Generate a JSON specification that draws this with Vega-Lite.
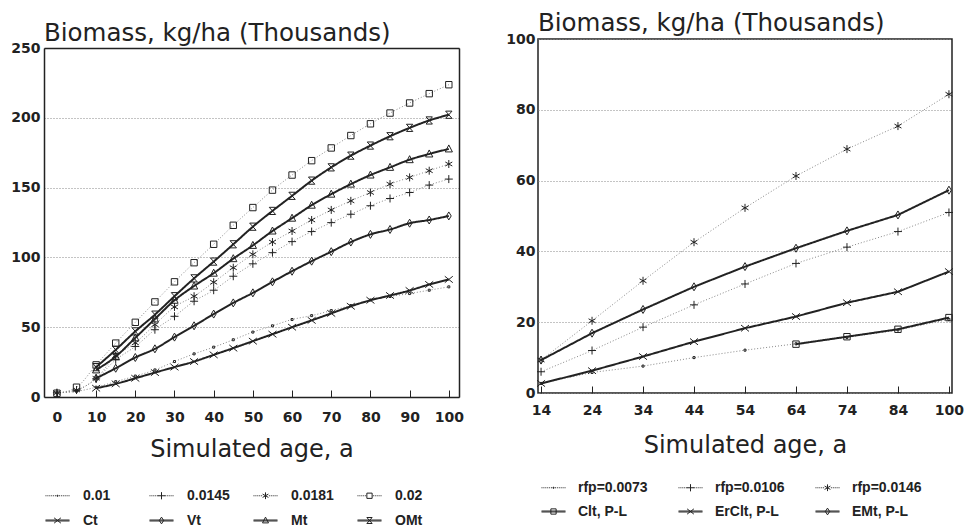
{
"$schema": "https://vega.github.io/schema/vega-lite/v6.json",
"background": "white",
"padding": {"left": 10, "top": 9, "right": 5, "bottom": 0},
"spacing": 41,
"datasets": {
"left": [
{"s":"0.01","k":"dotted","x":0,"y":3},{"s":"0.01","k":"dotted","x":5,"y":4},{"s":"0.01","k":"dotted","x":10,"y":7},{"s":"0.01","k":"dotted","x":15,"y":11},{"s":"0.01","k":"dotted","x":20,"y":15},{"s":"0.01","k":"dotted","x":25,"y":19.4},{"s":"0.01","k":"dotted","x":30,"y":25.4},{"s":"0.01","k":"dotted","x":35,"y":30.9},{"s":"0.01","k":"dotted","x":40,"y":35.7},{"s":"0.01","k":"dotted","x":45,"y":41},{"s":"0.01","k":"dotted","x":50,"y":46.5},{"s":"0.01","k":"dotted","x":55,"y":51},{"s":"0.01","k":"dotted","x":60,"y":55.5},{"s":"0.01","k":"dotted","x":65,"y":58.3},{"s":"0.01","k":"dotted","x":70,"y":61.9},{"s":"0.01","k":"dotted","x":75,"y":65.5},{"s":"0.01","k":"dotted","x":80,"y":69.5},{"s":"0.01","k":"dotted","x":85,"y":72},{"s":"0.01","k":"dotted","x":90,"y":74.1},{"s":"0.01","k":"dotted","x":95,"y":76.5},{"s":"0.01","k":"dotted","x":100,"y":78.9},
{"s":"0.0145","k":"dotted","x":0,"y":3},{"s":"0.0145","k":"dotted","x":5,"y":5},{"s":"0.0145","k":"dotted","x":10,"y":13},{"s":"0.0145","k":"dotted","x":15,"y":26.6},{"s":"0.0145","k":"dotted","x":20,"y":36.2},{"s":"0.0145","k":"dotted","x":25,"y":48.2},{"s":"0.0145","k":"dotted","x":30,"y":57.8},{"s":"0.0145","k":"dotted","x":35,"y":68.6},{"s":"0.0145","k":"dotted","x":40,"y":76.5},{"s":"0.0145","k":"dotted","x":45,"y":86.5},{"s":"0.0145","k":"dotted","x":50,"y":95.4},{"s":"0.0145","k":"dotted","x":55,"y":103.4},{"s":"0.0145","k":"dotted","x":60,"y":111.3},{"s":"0.0145","k":"dotted","x":65,"y":118.5},{"s":"0.0145","k":"dotted","x":70,"y":124.9},{"s":"0.0145","k":"dotted","x":75,"y":130.9},{"s":"0.0145","k":"dotted","x":80,"y":137},{"s":"0.0145","k":"dotted","x":85,"y":142.2},{"s":"0.0145","k":"dotted","x":90,"y":146.5},{"s":"0.0145","k":"dotted","x":95,"y":151.8},{"s":"0.0145","k":"dotted","x":100,"y":156.1},
{"s":"0.0181","k":"dotted","x":0,"y":3},{"s":"0.0181","k":"dotted","x":5,"y":5},{"s":"0.0181","k":"dotted","x":10,"y":13.4},{"s":"0.0181","k":"dotted","x":15,"y":29.5},{"s":"0.0181","k":"dotted","x":20,"y":38.8},{"s":"0.0181","k":"dotted","x":25,"y":51.8},{"s":"0.0181","k":"dotted","x":30,"y":64.5},{"s":"0.0181","k":"dotted","x":35,"y":72.2},{"s":"0.0181","k":"dotted","x":40,"y":82.2},{"s":"0.0181","k":"dotted","x":45,"y":92.6},{"s":"0.0181","k":"dotted","x":50,"y":102.2},{"s":"0.0181","k":"dotted","x":55,"y":111},{"s":"0.0181","k":"dotted","x":60,"y":118.9},{"s":"0.0181","k":"dotted","x":65,"y":126.8},{"s":"0.0181","k":"dotted","x":70,"y":134},{"s":"0.0181","k":"dotted","x":75,"y":140.5},{"s":"0.0181","k":"dotted","x":80,"y":146.5},{"s":"0.0181","k":"dotted","x":85,"y":152.5},{"s":"0.0181","k":"dotted","x":90,"y":157.3},{"s":"0.0181","k":"dotted","x":95,"y":162.1},{"s":"0.0181","k":"dotted","x":100,"y":166.9},
{"s":"0.02","k":"dotted","x":0,"y":2.7},{"s":"0.02","k":"dotted","x":5,"y":7},{"s":"0.02","k":"dotted","x":10,"y":23},{"s":"0.02","k":"dotted","x":15,"y":38.6},{"s":"0.02","k":"dotted","x":20,"y":53.5},{"s":"0.02","k":"dotted","x":25,"y":68.1},{"s":"0.02","k":"dotted","x":30,"y":82.5},{"s":"0.02","k":"dotted","x":35,"y":96.2},{"s":"0.02","k":"dotted","x":40,"y":109.4},{"s":"0.02","k":"dotted","x":45,"y":123},{"s":"0.02","k":"dotted","x":50,"y":135.7},{"s":"0.02","k":"dotted","x":55,"y":148.2},{"s":"0.02","k":"dotted","x":60,"y":159},{"s":"0.02","k":"dotted","x":65,"y":169.3},{"s":"0.02","k":"dotted","x":70,"y":178.4},{"s":"0.02","k":"dotted","x":75,"y":187.3},{"s":"0.02","k":"dotted","x":80,"y":195.7},{"s":"0.02","k":"dotted","x":85,"y":203.4},{"s":"0.02","k":"dotted","x":90,"y":210.6},{"s":"0.02","k":"dotted","x":95,"y":217.3},{"s":"0.02","k":"dotted","x":100,"y":223.7},
{"s":"Ct","k":"solid","x":10,"y":6.3},{"s":"Ct","k":"solid","x":15,"y":9.4},{"s":"Ct","k":"solid","x":20,"y":13.4},{"s":"Ct","k":"solid","x":25,"y":17.5},{"s":"Ct","k":"solid","x":30,"y":21.4},{"s":"Ct","k":"solid","x":35,"y":25.4},{"s":"Ct","k":"solid","x":40,"y":30.2},{"s":"Ct","k":"solid","x":45,"y":35},{"s":"Ct","k":"solid","x":50,"y":40},{"s":"Ct","k":"solid","x":55,"y":45},{"s":"Ct","k":"solid","x":60,"y":50},{"s":"Ct","k":"solid","x":65,"y":54.9},{"s":"Ct","k":"solid","x":70,"y":59.9},{"s":"Ct","k":"solid","x":75,"y":65},{"s":"Ct","k":"solid","x":80,"y":69.3},{"s":"Ct","k":"solid","x":85,"y":72.7},{"s":"Ct","k":"solid","x":90,"y":76.3},{"s":"Ct","k":"solid","x":95,"y":80.6},{"s":"Ct","k":"solid","x":100,"y":84.2},
{"s":"Vt","k":"solid","x":10,"y":13.4},{"s":"Vt","k":"solid","x":15,"y":20.6},{"s":"Vt","k":"solid","x":20,"y":28.3},{"s":"Vt","k":"solid","x":25,"y":34.5},{"s":"Vt","k":"solid","x":30,"y":42.9},{"s":"Vt","k":"solid","x":35,"y":51},{"s":"Vt","k":"solid","x":40,"y":59.4},{"s":"Vt","k":"solid","x":45,"y":67.4},{"s":"Vt","k":"solid","x":50,"y":74.6},{"s":"Vt","k":"solid","x":55,"y":82.5},{"s":"Vt","k":"solid","x":60,"y":90.1},{"s":"Vt","k":"solid","x":65,"y":97.3},{"s":"Vt","k":"solid","x":70,"y":104.1},{"s":"Vt","k":"solid","x":75,"y":111},{"s":"Vt","k":"solid","x":80,"y":116.5},{"s":"Vt","k":"solid","x":85,"y":120},{"s":"Vt","k":"solid","x":90,"y":124.5},{"s":"Vt","k":"solid","x":95,"y":126.8},{"s":"Vt","k":"solid","x":100,"y":129.7},
{"s":"Mt","k":"solid","x":10,"y":19.4},{"s":"Mt","k":"solid","x":15,"y":29},{"s":"Mt","k":"solid","x":20,"y":42.4},{"s":"Mt","k":"solid","x":25,"y":55.9},{"s":"Mt","k":"solid","x":30,"y":69.3},{"s":"Mt","k":"solid","x":35,"y":79.5},{"s":"Mt","k":"solid","x":40,"y":88.7},{"s":"Mt","k":"solid","x":45,"y":99.1},{"s":"Mt","k":"solid","x":50,"y":108.6},{"s":"Mt","k":"solid","x":55,"y":118.9},{"s":"Mt","k":"solid","x":60,"y":128.1},{"s":"Mt","k":"solid","x":65,"y":137.4},{"s":"Mt","k":"solid","x":70,"y":145.3},{"s":"Mt","k":"solid","x":75,"y":152.5},{"s":"Mt","k":"solid","x":80,"y":159},{"s":"Mt","k":"solid","x":85,"y":164.5},{"s":"Mt","k":"solid","x":90,"y":170},{"s":"Mt","k":"solid","x":95,"y":174.1},{"s":"Mt","k":"solid","x":100,"y":177.7},
{"s":"OMt","k":"solid","x":10,"y":21.4},{"s":"OMt","k":"solid","x":15,"y":33.8},{"s":"OMt","k":"solid","x":20,"y":47},{"s":"OMt","k":"solid","x":25,"y":59},{"s":"OMt","k":"solid","x":30,"y":72.2},{"s":"OMt","k":"solid","x":35,"y":85},{"s":"OMt","k":"solid","x":40,"y":97},{"s":"OMt","k":"solid","x":45,"y":109.4},{"s":"OMt","k":"solid","x":50,"y":122},{"s":"OMt","k":"solid","x":55,"y":133.3},{"s":"OMt","k":"solid","x":60,"y":144.1},{"s":"OMt","k":"solid","x":65,"y":155},{"s":"OMt","k":"solid","x":70,"y":164.5},{"s":"OMt","k":"solid","x":75,"y":172.9},{"s":"OMt","k":"solid","x":80,"y":180.1},{"s":"OMt","k":"solid","x":85,"y":186.8},{"s":"OMt","k":"solid","x":90,"y":192.8},{"s":"OMt","k":"solid","x":95,"y":198.1},{"s":"OMt","k":"solid","x":100,"y":202.2}
],
"right": [
{"s":"rfp=0.0073","k":"dotted","x":14,"y":2.7},{"s":"rfp=0.0073","k":"dotted","x":24,"y":5.8},{"s":"rfp=0.0073","k":"dotted","x":34,"y":7.6},{"s":"rfp=0.0073","k":"dotted","x":44,"y":10},{"s":"rfp=0.0073","k":"dotted","x":54,"y":12.1},{"s":"rfp=0.0073","k":"dotted","x":64,"y":13.9},{"s":"rfp=0.0073","k":"dotted","x":74,"y":15.7},{"s":"rfp=0.0073","k":"dotted","x":84,"y":17.8},{"s":"rfp=0.0073","k":"dotted","x":100,"y":20.8},
{"s":"rfp=0.0106","k":"dotted","x":14,"y":6},{"s":"rfp=0.0106","k":"dotted","x":24,"y":12},{"s":"rfp=0.0106","k":"dotted","x":34,"y":18.6},{"s":"rfp=0.0106","k":"dotted","x":44,"y":24.9},{"s":"rfp=0.0106","k":"dotted","x":54,"y":30.8},{"s":"rfp=0.0106","k":"dotted","x":64,"y":36.6},{"s":"rfp=0.0106","k":"dotted","x":74,"y":41.2},{"s":"rfp=0.0106","k":"dotted","x":84,"y":45.6},{"s":"rfp=0.0106","k":"dotted","x":100,"y":51},
{"s":"rfp=0.0146","k":"dotted","x":14,"y":9.3},{"s":"rfp=0.0146","k":"dotted","x":24,"y":20.4},{"s":"rfp=0.0146","k":"dotted","x":34,"y":31.7},{"s":"rfp=0.0146","k":"dotted","x":44,"y":42.6},{"s":"rfp=0.0146","k":"dotted","x":54,"y":52.3},{"s":"rfp=0.0146","k":"dotted","x":64,"y":61.3},{"s":"rfp=0.0146","k":"dotted","x":74,"y":68.9},{"s":"rfp=0.0146","k":"dotted","x":84,"y":75.4},{"s":"rfp=0.0146","k":"dotted","x":100,"y":84.4},
{"s":"Clt, P-L","k":"solid","x":64,"y":13.8},{"s":"Clt, P-L","k":"solid","x":74,"y":15.9},{"s":"Clt, P-L","k":"solid","x":84,"y":18},{"s":"Clt, P-L","k":"solid","x":100,"y":21.3},
{"s":"ErClt, P-L","k":"solid","x":14,"y":2.7},{"s":"ErClt, P-L","k":"solid","x":24,"y":6.3},{"s":"ErClt, P-L","k":"solid","x":34,"y":10.3},{"s":"ErClt, P-L","k":"solid","x":44,"y":14.5},{"s":"ErClt, P-L","k":"solid","x":54,"y":18.3},{"s":"ErClt, P-L","k":"solid","x":64,"y":21.6},{"s":"ErClt, P-L","k":"solid","x":74,"y":25.5},{"s":"ErClt, P-L","k":"solid","x":84,"y":28.6},{"s":"ErClt, P-L","k":"solid","x":100,"y":34.3},
{"s":"EMt, P-L","k":"solid","x":14,"y":9.3},{"s":"EMt, P-L","k":"solid","x":24,"y":16.9},{"s":"EMt, P-L","k":"solid","x":34,"y":23.6},{"s":"EMt, P-L","k":"solid","x":44,"y":30},{"s":"EMt, P-L","k":"solid","x":54,"y":35.7},{"s":"EMt, P-L","k":"solid","x":64,"y":40.9},{"s":"EMt, P-L","k":"solid","x":74,"y":45.8},{"s":"EMt, P-L","k":"solid","x":84,"y":50.3},{"s":"EMt, P-L","k":"solid","x":100,"y":57.3}
]
},
"hconcat": [
{
"width": 415, "height": 358,
"view": {"stroke": null},
"data": {"name": "left"},
"title": {"text": "Biomass, kg/ha (Thousands)", "font": "DejaVu Sans", "fontSize": 24.5, "fontWeight": "normal", "color": "#222", "anchor": "start", "frame": "group", "offset": -7.5},
"layer": [
{"mark": {"type": "line", "interpolate": "monotone"},
"encoding": {
"x": {"field": "x", "type": "quantitative", "scale": {"domain": [-3.3, 102.6], "nice": false, "zero": false},
"axis": {"values": [0,10,20,30,40,50,60,70,80,90,100], "format": "d", "title": "Simulated age, a", "grid": false, "domain": true, "domainColor": "#222", "domainWidth": 1.5, "tickSize": -7, "tickColor": "#222", "labelPadding": 20, "labelFont": "DejaVu Sans", "labelFontSize": 14, "labelFontWeight": "bold", "labelColor": "#222", "titleFont": "DejaVu Sans", "titleFontSize": 24, "titleFontWeight": "normal", "titleColor": "#222", "titlePadding": 13}},
"y": {"field": "y", "type": "quantitative", "scale": {"domain": [0, 250], "nice": false, "range": [358, 9]},
"axis": {"values": [0,50,100,150,200,250], "title": null, "grid": true, "gridDash": [1,2], "gridColor": "#888", "domain": true, "domainColor": "#222", "domainWidth": 1.5, "ticks": false, "labelPadding": 4, "labelFont": "DejaVu Sans", "labelFontSize": 14, "labelFontWeight": "bold", "labelColor": "#222"}},
"detail": {"field": "s"},
"strokeDash": {"field": "k", "type": "nominal", "scale": {"domain": ["dotted","solid"], "range": [[1,2],[1,0]]}, "legend": null},
"strokeWidth": {"field": "k", "type": "nominal", "scale": {"domain": ["dotted","solid"], "range": [1,2]}, "legend": null},
"color": {"field": "k", "type": "nominal", "scale": {"domain": ["dotted","solid"], "range": ["#888","#222"]}, "legend": null}}},
{"mark": {"type": "point", "filled": false, "size": 64, "strokeWidth": 1, "color": "#222", "opacity": 1},
"encoding": {
"x": {"field": "x", "type": "quantitative", "axis": {"orient": "top", "labels": false, "ticks": false, "grid": false, "domain": true, "domainColor": "#222", "domainWidth": 1.5, "title": null, "offset": -9}},
"y": {"field": "y", "type": "quantitative", "axis": {"orient": "right", "labels": false, "ticks": false, "grid": false, "domain": true, "domainColor": "#222", "domainWidth": 1.5, "title": null}},
"shape": {"field": "s", "type": "nominal",
"scale": {"domain": ["0.01","0.0145","0.0181","0.02","Ct","Vt","Mt","OMt"],
"range": ["M-0.25,-0.25H0.25V0.25H-0.25Z","M-1,0H1M0,-1V1","M0,-1V1M-0.87,-0.5L0.87,0.5M-0.87,0.5L0.87,-0.5","M-0.8,-0.8H0.8V0.8H-0.8Z","M-1,-0.8L1,0.8M-1,0.8L1,-0.8","M0,-1L0.6,0L0,1L-0.6,0Z","M0,-1L0.9,0.75H-0.9Z","M-0.8,-0.9H0.8L-0.8,0.9H0.8Z"]},
"legend": null}}},
{"mark": {"type": "point", "filled": false, "opacity": 0, "color": "#222"},
"encoding": {
"x": {"field": "x", "type": "quantitative", "axis": null},
"y": {"field": "y", "type": "quantitative", "axis": null},
"shape": {"field": "s", "type": "nominal",
"scale": {"domain": ["0.01","0.0145","0.0181","0.02","Ct","Vt","Mt","OMt"],
"range": [
"M-1,0H-0.92M-0.84,0H-0.76M-0.68,0H-0.6M-0.52,0H-0.44M-0.36,0H-0.28M-0.2,0H-0.12M0.12,0H0.2M0.28,0H0.36M0.44,0H0.52M0.6,0H0.68M0.76,0H0.84M0.92,0H1M-0.04,-0.04H0.04V0.04H-0.04Z",
"M-1,0H-0.92M-0.84,0H-0.76M-0.68,0H-0.6M-0.52,0H-0.44M-0.36,0H-0.28M0.28,0H0.36M0.44,0H0.52M0.6,0H0.68M0.76,0H0.84M0.92,0H1M-0.3,0H0.3M0,-0.3V0.3",
"M-1,0H-0.92M-0.84,0H-0.76M-0.68,0H-0.6M-0.52,0H-0.44M-0.36,0H-0.28M0.28,0H0.36M0.44,0H0.52M0.6,0H0.68M0.76,0H0.84M0.92,0H1M0,-0.28V0.28M-0.24,-0.14L0.24,0.14M-0.24,0.14L0.24,-0.14",
"M-1,0H-0.92M-0.84,0H-0.76M-0.68,0H-0.6M-0.52,0H-0.44M-0.36,0H-0.28M0.28,0H0.36M0.44,0H0.52M0.6,0H0.68M0.76,0H0.84M0.92,0H1M-0.22,-0.22H0.22V0.22H-0.22Z",
"M-1,-0.04H1M-1,0.04H1M-0.28,-0.22L0.28,0.22M-0.28,0.22L0.28,-0.22",
"M-1,-0.04H1M-1,0.04H1M0,-0.28L0.18,0L0,0.28L-0.18,0Z",
"M-1,-0.04H1M-1,0.04H1M0,-0.28L0.25,0.2H-0.25Z",
"M-1,-0.04H1M-1,0.04H1M-0.22,-0.25H0.22L-0.22,0.25H0.22Z"]},
"legend": {"title": null, "orient": "none", "direction": "horizontal", "legendX": 1, "legendY": 444, "columns": 4, "gridAlign": "all", "symbolSize": 576, "symbolStrokeWidth": 1, "symbolOpacity": 1, "symbolStrokeColor": "#222", "labelFont": "Liberation Sans", "labelFontSize": 14, "labelFontWeight": "bold", "labelColor": "#222", "labelOffset": 13, "columnPadding": 21, "rowPadding": 5}}}}
],
"resolve": {"scale": {"shape": "independent"}, "axis": {"x": "independent", "y": "independent"}}
},
{
"width": 414, "height": 354,
"data": {"name": "right"},
"title": {"text": "Biomass, kg/ha (Thousands)", "font": "DejaVu Sans", "fontSize": 24.5, "fontWeight": "normal", "color": "#222", "anchor": "start", "frame": "group", "offset": -4},
"encoding": {
"x": {"field": "x", "type": "ordinal", "scale": {"type": "point", "domain": [14,24,34,44,54,64,74,84,100], "padding": 0.06},
"axis": {"labelAngle": 0, "title": "Simulated age, a", "grid": false, "domain": false, "tickSize": -7, "tickColor": "#222", "labelPadding": 17, "labelFont": "DejaVu Sans", "labelFontSize": 14, "labelFontWeight": "bold", "labelColor": "#222", "titleFont": "DejaVu Sans", "titleFontSize": 24, "titleFontWeight": "normal", "titleColor": "#222", "titlePadding": 16}},
"y": {"field": "y", "type": "quantitative", "scale": {"domain": [0, 100], "nice": false},
"axis": {"values": [0,20,40,60,80,100], "title": null, "grid": true, "gridDash": [1,2], "gridColor": "#888", "domain": false, "ticks": false, "labelPadding": 3, "labelFont": "DejaVu Sans", "labelFontSize": 14, "labelFontWeight": "bold", "labelColor": "#222"}}
},
"layer": [
{"mark": {"type": "line"},
"encoding": {"detail": {"field": "s"},
"strokeDash": {"field": "k", "type": "nominal", "scale": {"domain": ["dotted","solid"], "range": [[1,2],[1,0]]}, "legend": null},
"strokeWidth": {"field": "k", "type": "nominal", "scale": {"domain": ["dotted","solid"], "range": [1,2]}, "legend": null},
"color": {"field": "k", "type": "nominal", "scale": {"domain": ["dotted","solid"], "range": ["#888","#222"]}, "legend": null}}},
{"mark": {"type": "point", "filled": false, "size": 64, "strokeWidth": 1, "color": "#222", "opacity": 1},
"encoding": {"shape": {"field": "s", "type": "nominal",
"scale": {"domain": ["rfp=0.0073","rfp=0.0106","rfp=0.0146","Clt, P-L","ErClt, P-L","EMt, P-L"],
"range": ["M-0.25,-0.25H0.25V0.25H-0.25Z","M-1,0H1M0,-1V1","M0,-1V1M-0.87,-0.5L0.87,0.5M-0.87,0.5L0.87,-0.5","M-0.8,-0.8H0.8V0.8H-0.8Z","M-1,-0.8L1,0.8M-1,0.8L1,-0.8","M0,-1L0.6,0L0,1L-0.6,0Z"]},
"legend": null}}},
{"mark": {"type": "point", "filled": false, "opacity": 0, "color": "#222"},
"encoding": {"shape": {"field": "s", "type": "nominal",
"scale": {"domain": ["rfp=0.0073","rfp=0.0106","rfp=0.0146","Clt, P-L","ErClt, P-L","EMt, P-L"],
"range": [
"M-1,0H-0.92M-0.84,0H-0.76M-0.68,0H-0.6M-0.52,0H-0.44M-0.36,0H-0.28M-0.2,0H-0.12M0.12,0H0.2M0.28,0H0.36M0.44,0H0.52M0.6,0H0.68M0.76,0H0.84M0.92,0H1M-0.04,-0.04H0.04V0.04H-0.04Z",
"M-1,0H-0.92M-0.84,0H-0.76M-0.68,0H-0.6M-0.52,0H-0.44M-0.36,0H-0.28M0.28,0H0.36M0.44,0H0.52M0.6,0H0.68M0.76,0H0.84M0.92,0H1M-0.3,0H0.3M0,-0.3V0.3",
"M-1,0H-0.92M-0.84,0H-0.76M-0.68,0H-0.6M-0.52,0H-0.44M-0.36,0H-0.28M0.28,0H0.36M0.44,0H0.52M0.6,0H0.68M0.76,0H0.84M0.92,0H1M0,-0.28V0.28M-0.24,-0.14L0.24,0.14M-0.24,0.14L0.24,-0.14",
"M-1,-0.04H1M-1,0.04H1M-0.22,-0.22H0.22V0.22H-0.22Z",
"M-1,-0.04H1M-1,0.04H1M-0.28,-0.22L0.28,0.22M-0.28,0.22L0.28,-0.22",
"M-1,-0.04H1M-1,0.04H1M0,-0.28L0.18,0L0,0.28L-0.18,0Z"]},
"legend": {"title": null, "orient": "none", "direction": "horizontal", "legendX": 3, "legendY": 436, "columns": 3, "gridAlign": "all", "symbolSize": 576, "symbolStrokeWidth": 1, "symbolOpacity": 1, "symbolStrokeColor": "#222", "labelFont": "Liberation Sans", "labelFontSize": 14, "labelFontWeight": "bold", "labelColor": "#222", "labelOffset": 12, "columnPadding": 28, "rowPadding": 4}}}}
],
"resolve": {"scale": {"shape": "independent"}}
}
],
"config": {"view": {"stroke": "#222", "strokeWidth": 1.5}, "font": "DejaVu Sans"}
}
